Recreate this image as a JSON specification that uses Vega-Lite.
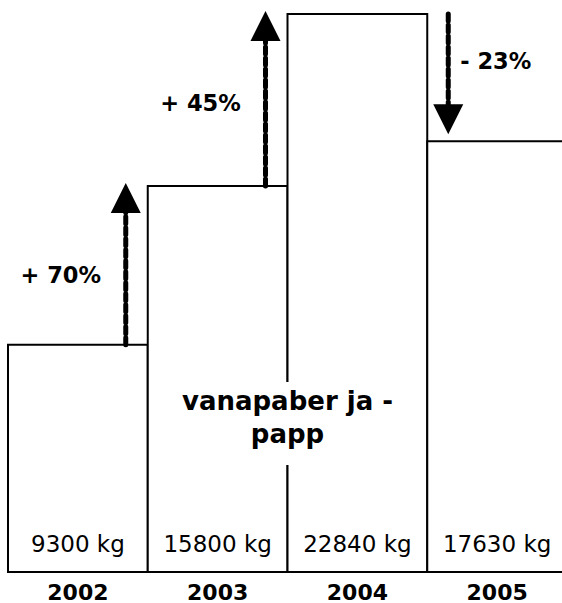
{
  "$schema": "https://vega.github.io/schema/vega-lite/v6.json",
  "width": 554,
  "height": 558,
  "autosize": {"type": "none"},
  "padding": {"left": 8, "top": 14, "right": 0, "bottom": 31},
  "background": "white",
  "config": {"font": "DejaVu Sans", "view": {"stroke": null}, "axis": {"grid": false}},
  "datasets": {
    "amounts": [
      {"year": "2002", "kg": 9300, "label": "9300 kg"},
      {"year": "2003", "kg": 15800, "label": "15800 kg"},
      {"year": "2004", "kg": 22840, "label": "22840 kg"},
      {"year": "2005", "kg": 17630, "label": "17630 kg"}
    ],
    "arrows": [
      {"year": "2003", "from": 9300, "to": 15800, "label": "+ 70%", "dir": "up"},
      {"year": "2004", "from": 15800, "to": 22840, "label": "+ 45%", "dir": "up"},
      {"year": "2005", "from": 22840, "to": 17630, "label": "- 23%", "dir": "down"}
    ],
    "note": [{"text": "vanapaber ja -\npapp"}]
  },
  "layer": [
    {
      "data": {"name": "amounts"},
      "mark": {"type": "bar", "fill": "white", "stroke": "black", "strokeWidth": 2},
      "encoding": {
        "x": {
          "field": "year", "type": "ordinal",
          "scale": {"range": [0, 559], "paddingInner": 0, "paddingOuter": 0},
          "axis": {"title": null, "orient": "bottom", "domain": false, "ticks": false, "tickSize": 0, "labelPadding": 27, "labelBaseline": "alphabetic", "labelAngle": 0, "labelFontSize": 22, "labelFontWeight": "bold", "labelColor": "black", "labelFont": "DejaVu Sans"}
        },
        "y": {"field": "kg", "type": "quantitative", "scale": {"domain": [0, 22840], "nice": false, "zero": true}, "axis": null}
      }
    },
    {
      "data": {"name": "amounts"},
      "mark": {"type": "text", "fontSize": 23, "color": "black", "baseline": "alphabetic", "dy": -20},
      "encoding": {
        "x": {"field": "year", "type": "ordinal"},
        "y": {"datum": 0, "type": "quantitative"},
        "text": {"field": "label"}
      }
    },
    {
      "data": {"name": "note"},
      "mark": {"type": "rule", "color": "white", "strokeWidth": 6},
      "encoding": {
        "x": {"datum": "2004", "type": "ordinal", "bandPosition": 0},
        "y": {"datum": 7777, "type": "quantitative"},
        "y2": {"datum": 4380}
      }
    },
    {
      "data": {"name": "note"},
      "mark": {"type": "text", "fontSize": 26, "fontWeight": "bold", "color": "black", "align": "center", "baseline": "middle", "lineBreak": "\n", "lineHeight": 33},
      "encoding": {
        "x": {"datum": "2004", "type": "ordinal", "bandPosition": 0},
        "y": {"datum": 6940, "type": "quantitative"},
        "text": {"field": "text"}
      }
    },
    {
      "data": {"name": "arrows"},
      "transform": [{"filter": "datum.dir == 'up'"}],
      "mark": {"type": "rule", "color": "black", "strokeWidth": 5, "strokeDash": [7, 4], "strokeCap": "round", "xOffset": -22, "y2Offset": 15},
      "encoding": {
        "x": {"field": "year", "type": "ordinal", "bandPosition": 0},
        "y": {"field": "from", "type": "quantitative"},
        "y2": {"field": "to"}
      }
    },
    {
      "data": {"name": "arrows"},
      "transform": [{"filter": "datum.dir == 'up'"}],
      "mark": {"type": "point", "shape": "M0,-1L-1,1L1,1Z", "size": 900, "filled": true, "color": "black", "opacity": 1, "strokeWidth": 0, "xOffset": -22, "yOffset": 12},
      "encoding": {
        "x": {"field": "year", "type": "ordinal", "bandPosition": 0},
        "y": {"field": "to", "type": "quantitative"}
      }
    },
    {
      "data": {"name": "arrows"},
      "transform": [{"filter": "datum.dir == 'up'"}],
      "mark": {"type": "text", "fontSize": 22.5, "fontWeight": "bold", "color": "black", "align": "center", "baseline": "alphabetic", "xOffset": -87, "dy": 97},
      "encoding": {
        "x": {"field": "year", "type": "ordinal", "bandPosition": 0},
        "y": {"field": "to", "type": "quantitative"},
        "text": {"field": "label"}
      }
    },
    {
      "data": {"name": "arrows"},
      "transform": [{"filter": "datum.dir == 'down'"}],
      "mark": {"type": "rule", "color": "black", "strokeWidth": 5, "strokeDash": [7, 4], "strokeCap": "round", "xOffset": 21, "y2Offset": -25},
      "encoding": {
        "x": {"field": "year", "type": "ordinal", "bandPosition": 0},
        "y": {"field": "from", "type": "quantitative"},
        "y2": {"field": "to"}
      }
    },
    {
      "data": {"name": "arrows"},
      "transform": [{"filter": "datum.dir == 'down'"}],
      "mark": {"type": "point", "shape": "M0,1L-1,-1L1,-1Z", "size": 900, "filled": true, "color": "black", "opacity": 1, "strokeWidth": 0, "xOffset": 21, "yOffset": -22},
      "encoding": {
        "x": {"field": "year", "type": "ordinal", "bandPosition": 0},
        "y": {"field": "to", "type": "quantitative"}
      }
    },
    {
      "data": {"name": "arrows"},
      "transform": [{"filter": "datum.dir == 'down'"}],
      "mark": {"type": "text", "fontSize": 22.5, "fontWeight": "bold", "color": "black", "align": "left", "baseline": "alphabetic", "xOffset": 33, "dy": -72},
      "encoding": {
        "x": {"field": "year", "type": "ordinal", "bandPosition": 0},
        "y": {"field": "to", "type": "quantitative"},
        "text": {"field": "label"}
      }
    }
  ]
}
